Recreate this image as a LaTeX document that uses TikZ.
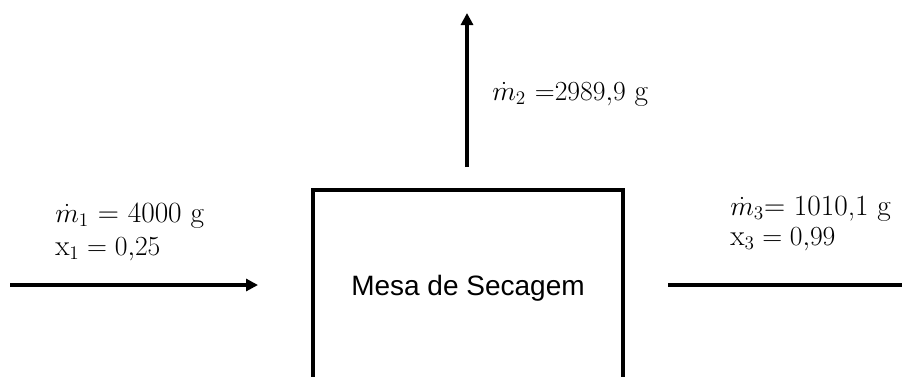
\documentclass[tikz,border=0pt]{standalone}
\usepackage{fontspec}
\newfontfamily\arialfont{Liberation Sans}
\usepackage{xcolor}
\usetikzlibrary{arrows.meta, positioning, calc}

\begin{document}
\begin{tikzpicture}[x=0.75pt, y=-0.75pt,
    flow/.style={line width=3pt, -{Triangle[length=9pt, width=9pt]}},
    pipe/.style={line width=3pt},
    lbl/.style={anchor=base west, inner sep=0pt, font=\fontsize{22}{26}\selectfont}]
    \useasboundingbox (0,0) rectangle (902,376);
    \node (mesa) [draw, line width=3pt, minimum width=232pt, minimum height=147pt,
        font=\arialfont\fontsize{21}{25}\selectfont] at (468,288) {Mesa de Secagem};
    \coordinate (in1) at (10,285);
    \coordinate (in2) at (258,285);
    \coordinate (up1) at (467,167);
    \coordinate (up2) at (467,13);
    \coordinate (out1) at (668,285);
    \coordinate (out2) at (902,285);
    \draw[flow] (in1) -- (in2);
    \draw[flow] (up1) -- (up2);
    \draw[pipe] (out1) -- (out2);
    % correntes
    \node (m1) [lbl] at (55,222) {$\dot{m}_1$ = 4000 g};
    \node (x1) [lbl] at (55,255) {$\mathrm{x}_1 = 0{,}25$};
    \node (m2) [lbl] at (492,100) {$\dot{m}_2\ {=}2989{,}9\ \mathrm{g}$};
    \node (m3) [lbl] at (730,215) {$\dot{m}_3$= 1010,1 g};
    \node (x3) [lbl] at (730,245) {$\mathrm{x}_3 = 0{,}99$};
\end{tikzpicture}
\end{document}
